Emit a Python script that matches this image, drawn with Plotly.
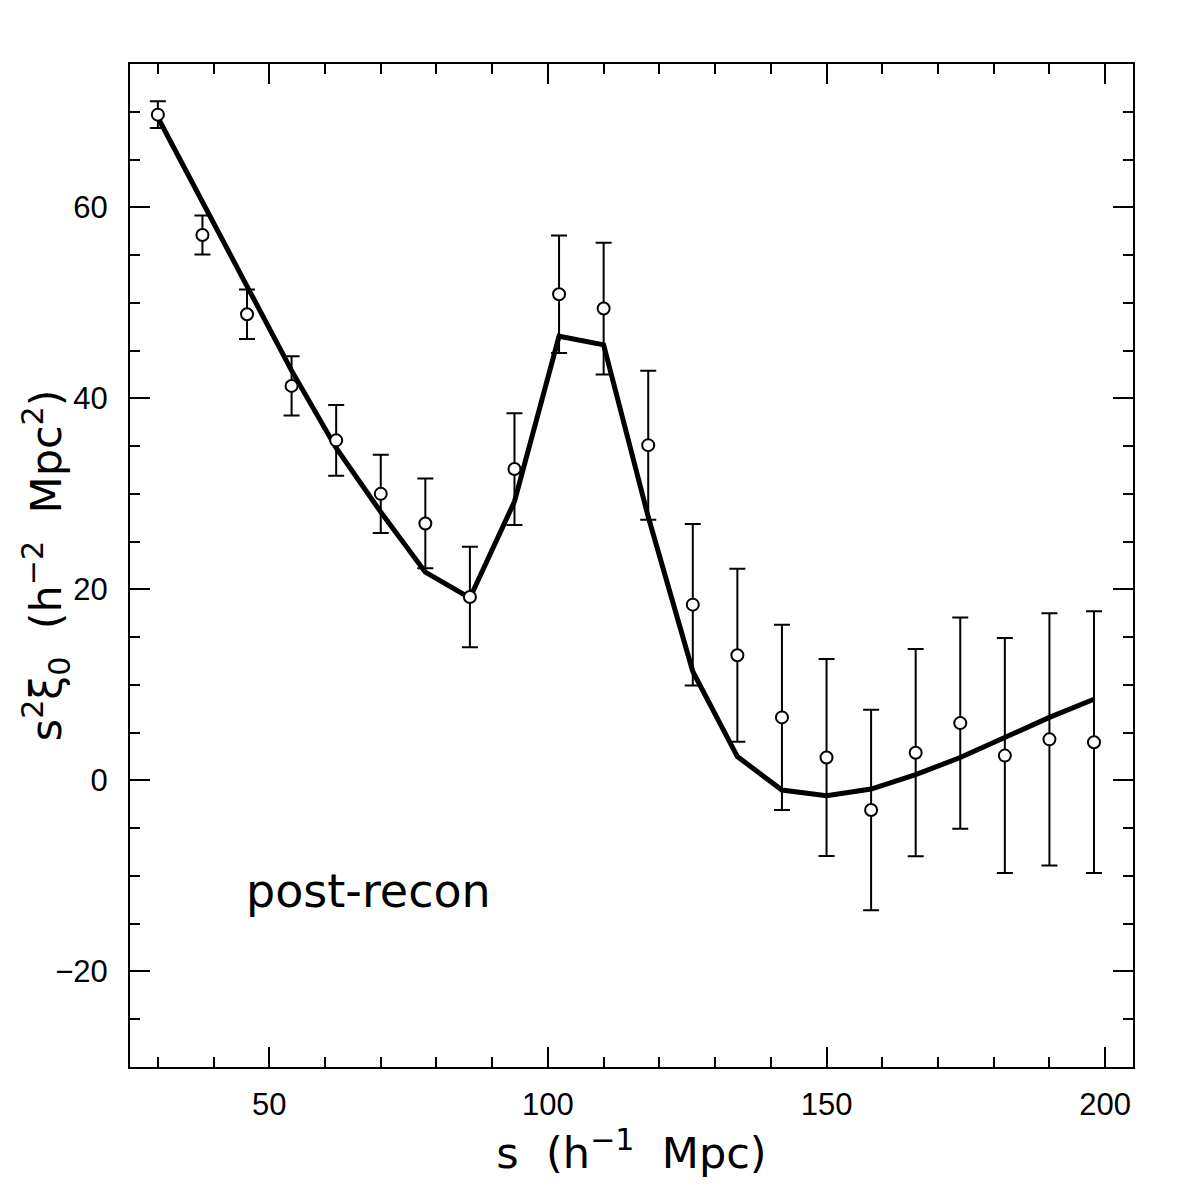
import plotly.graph_objects as go

# Data
s_vals = [30, 38, 46, 54, 62, 70, 78, 86, 94, 102, 110, 118, 126, 134, 142, 150, 158, 166, 174, 182, 190, 198]
xi_data = [69.7, 57.1, 48.8, 41.3, 35.6, 30.0, 26.9, 19.2, 32.6, 50.9, 49.4, 35.1, 18.4, 13.1, 6.6, 2.4, -3.1, 2.9, 6.0, 2.6, 4.3, 4.0]
xi_err = [1.4, 2.05, 2.6, 3.1, 3.7, 4.1, 4.7, 5.25, 5.85, 6.15, 6.9, 7.8, 8.45, 9.05, 9.7, 10.3, 10.5, 10.85, 11.05, 12.3, 13.2, 13.7]
xi_model = [69.4, 60.6, 51.6, 42.9, 34.8, 28.1, 21.8, 19.1, 29.2, 46.5, 45.6, 27.6, 11.4, 2.5, -1.0, -1.6, -0.9, 0.6, 2.4, 4.5, 6.6, 8.5]

x_ticks = [50, 100, 150, 200]
y_ticks = [-20, 0, 20, 40, 60]
y_ticktext = ["−20", "0", "20", "40", "60"]

TICKFONT = "Liberation Sans"
TEXTFONT = "DejaVu Sans"
NB = "\u00a0"

fig = go.Figure()

fig.add_trace(go.Scatter(
    x=s_vals, y=xi_model, mode="lines",
    line=dict(color="black", width=5),
    showlegend=False, hoverinfo="skip",
))

fig.add_trace(go.Scatter(
    x=s_vals, y=xi_data, mode="markers",
    marker=dict(symbol="circle", size=12, color="white", line=dict(color="black", width=2)),
    error_y=dict(type="data", array=xi_err, visible=True, color="black", thickness=2, width=8),
    showlegend=False,
))

axis_common = dict(
    showline=True, linecolor="black", linewidth=2, mirror="allticks",
    ticks="inside", ticklen=20, tickwidth=2, tickcolor="black",
    showgrid=False, zeroline=False,
    tickfont=dict(family=TICKFONT, size=31, color="black"),
)

fig.update_xaxes(
    range=[25, 205], tickvals=x_ticks,
    minor=dict(dtick=10, tick0=0, ticks="inside", ticklen=10, tickwidth=2, tickcolor="black", showgrid=False),
    ticklabelstandoff=9,
    title=dict(text=f"s{NB}{NB}(h<sup>−1</sup>{NB}{NB}Mpc)",
               font=dict(family=TEXTFONT, size=43, color="black"), standoff=14),
    **axis_common,
)
fig.update_yaxes(
    range=[-30, 75], tickvals=y_ticks, ticktext=y_ticktext,
    minor=dict(dtick=5, tick0=0, ticks="inside", ticklen=10, tickwidth=2, tickcolor="black", showgrid=False),
    ticklabelstandoff=14,
    **axis_common,
)

fig.add_annotation(
    x=-0.084, y=0.5, xref="paper", yref="paper",
    text=f"s<sup>2</sup>ξ<sub>0</sub>{NB}{NB}(h<sup>−2</sup>{NB}{NB}Mpc<sup>2</sup>)",
    textangle=-90, showarrow=False, xanchor="center", yanchor="middle",
    font=dict(family=TEXTFONT, size=43, color="black"),
)

fig.add_annotation(
    x=45.5, y=-11.6, xref="x", yref="y", text="post-recon",
    showarrow=False, xanchor="left", yanchor="middle",
    font=dict(family=TEXTFONT, size=46, color="black"),
)

fig.update_layout(
    width=1179, height=1179,
    margin=dict(l=122, r=54, t=56, b=120),
    paper_bgcolor="white", plot_bgcolor="white",
    showlegend=False,
)

fig.write_html("out.html")
